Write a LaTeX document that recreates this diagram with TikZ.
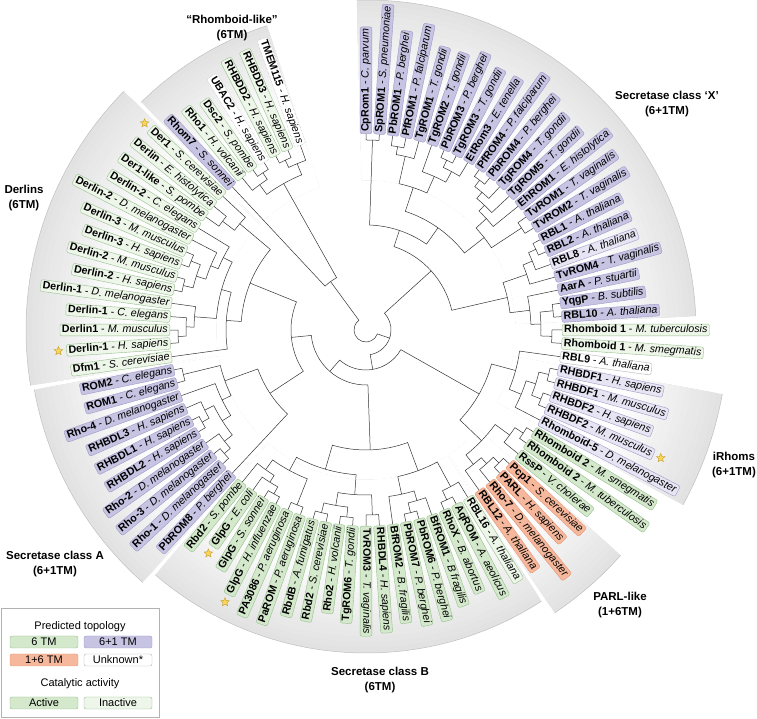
\documentclass[tikz,border=0pt]{standalone}
\usepackage{fontspec}
\setmainfont{Liberation Sans}
\usepackage{tikz}
\usetikzlibrary{shapes.geometric,calc}

\definecolor{sixtm}{RGB}{212,232,204}
\definecolor{sixtmi}{RGB}{237,246,233}
\definecolor{tmedge}{RGB}{150,190,140}
\definecolor{sixone}{RGB}{199,195,226}
\definecolor{sixonei}{RGB}{231,229,244}
\definecolor{oneedge}{RGB}{158,153,198}
\definecolor{onesix}{RGB}{246,184,156}
\definecolor{sixedge}{RGB}{230,148,116}
\definecolor{shadegray}{RGB}{226,226,226}
\definecolor{starfill}{RGB}{250,214,92}
\definecolor{staredge}{RGB}{196,156,40}

% clade: radius, first child (slot, radius), second child (slot, radius)
\newcommand{\clade}[5]{\draw[branch] ({90-3.913*(#2)}:#3pt) -- ({90-3.913*(#2)}:#1pt) arc[start angle={90-3.913*(#2)}, end angle={90-3.913*(#4)}, radius=#1pt] -- ({90-3.913*(#4)}:#5pt);}

% shaded group sector: start angle, end angle, outer radius
\newcommand{\grpsector}[3]{%
  \foreach \k in {0,...,16} {
    \pgfmathsetmacro\rr{#3*(1-0.017*\k)}
    \pgfmathsetmacro\pc{100-6.25*\k}
    \fill[shadegray!\pc!white] (#1:150pt) arc[start angle=#1, end angle=#2, radius=150pt] -- (#2:\rr pt) arc[start angle=#2, end angle=#1, radius=\rr pt] -- cycle;
  }
  \draw[sectedge] (#1:#3pt) arc[start angle=#1, end angle=#2, radius=#3pt];}

\begin{document}
\begin{tikzpicture}[x=1pt, y=1pt,
    branch/.style={draw=black!80, line width=0.5pt},
    sectedge/.style={draw=gray!50, line width=0.5pt},
    leaf/.style={draw, rounded corners=2pt, inner xsep=2pt, inner ysep=1pt, text height=7.6pt, text depth=2.2pt, font=\fontsize{10.7}{12}\selectfont, line width=0.4pt},
    pur/.style={leaf, fill=sixone, draw=oneedge},
    lpur/.style={leaf, fill=sixonei, draw=oneedge},
    grn/.style={leaf, fill=sixtm, draw=tmedge},
    lgrn/.style={leaf, fill=sixtmi, draw=tmedge},
    org/.style={leaf, fill=onesix, draw=sixedge},
    unk/.style={leaf, fill=white, draw=gray!60},
    dott/.style={leaf, fill=white, draw=gray!70, densely dotted},
    starmark/.style={star, star points=5, star point ratio=2.3, minimum size=9pt, inner sep=0pt, fill=starfill, draw=staredge, line width=0.4pt},
    head/.style={font=\fontsize{11.5}{15}\selectfont\bfseries, align=center},
    legkey/.style={draw, rounded corners=2pt, minimum width=68pt, minimum height=12pt, inner sep=0pt, font=\fontsize{11}{13}\selectfont},
    legtxt/.style={font=\fontsize{11}{13}\selectfont}]
  \useasboundingbox (0,0) rectangle (757,719);

  \begin{scope}[shift={(366,389)}]
    % Group shading
    \grpsector{134.6}{108.0}{320}
    \grpsector{91.6}{2.4}{330}
    \grpsector{-10.2}{-28.9}{362}
    \grpsector{-41.5}{-56.3}{340}
    \grpsector{-57.1}{-130.7}{323}
    \grpsector{-131.5}{-169.8}{337}
    \grpsector{-170.6}{-224.6}{340}

    % Secretase class X
    \clade{190}{0}{196}{1}{196}
    \clade{186}{2}{196}{3}{196}
    \clade{178}{2.5}{186}{4}{196}
    \clade{188}{6}{196}{7}{196}
    \clade{180}{6.5}{188}{8}{196}
    \clade{168}{5}{196}{7.25}{180}
    \clade{150}{3.25}{178}{6.125}{168}
    \clade{188}{9}{196}{10}{196}
    \clade{180}{9.5}{188}{11}{196}
    \clade{172}{10.25}{180}{12}{196}
    \clade{164}{11.125}{172}{13}{196}
    \clade{186}{14}{196}{15}{196}
    \clade{150}{12.0625}{164}{14.5}{186}
    \clade{125}{4.6875}{150}{13.28125}{150}
    \clade{105}{0.5}{190}{8.984}{125}
    \clade{188}{16}{196}{17}{196}
    \clade{180}{16.5}{188}{18}{196}
    \clade{170}{17.25}{180}{19}{196}
    \clade{188}{21}{196}{22}{196}
    \clade{186}{23}{196}{24}{196}
    \clade{175}{21.5}{188}{23.5}{186}
    \clade{165}{20}{196}{22.5}{175}
    \clade{145}{18.125}{170}{21.25}{165}
    \clade{88}{4.742}{105}{19.6875}{145}

    % iRhoms, RBL9, PARL-like
    \clade{188}{26}{196}{27}{196}
    \clade{188}{28}{196}{29}{196}
    \clade{178}{26.5}{188}{28.5}{188}
    \clade{168}{27.5}{178}{30}{196}
    \clade{155}{25}{196}{28.75}{168}
    \clade{188}{31}{196}{32}{196}
    \clade{178}{31.5}{188}{33}{196}
    \clade{188}{34}{196}{35}{196}
    \clade{180}{34.5}{188}{36}{196}
    \clade{172}{35.25}{180}{37}{196}
    \clade{160}{32.25}{178}{36.125}{172}
    \clade{130}{26.875}{155}{34.1875}{160}

    % Secretase class B
    \clade{188}{39}{196}{40}{196}
    \clade{178}{38}{196}{39.5}{188}
    \clade{188}{42}{196}{43}{196}
    \clade{178}{41}{196}{42.5}{188}
    \clade{168}{41.75}{178}{44}{196}
    \clade{150}{38.75}{178}{42.875}{168}
    \clade{185}{45}{196}{46}{196}
    \clade{188}{47}{196}{48}{196}
    \clade{188}{49}{196}{50}{196}
    \clade{178}{47.5}{188}{49.5}{188}
    \clade{165}{45.5}{185}{48.5}{178}
    \clade{188}{51}{196}{52}{196}
    \clade{188}{53}{196}{54}{196}
    \clade{180}{53.5}{188}{55}{196}
    \clade{172}{54.25}{180}{56}{196}
    \clade{160}{51.5}{188}{55.125}{172}
    \clade{145}{47}{165}{53.3125}{160}
    \clade{120}{40.8125}{150}{50.15625}{145}

    % Secretase class A
    \clade{188}{58}{196}{59}{196}
    \clade{180}{58.5}{188}{60}{196}
    \clade{188}{61}{196}{62}{196}
    \clade{180}{61.5}{188}{63}{196}
    \clade{170}{59.25}{180}{62.25}{180}
    \clade{160}{60.75}{170}{64}{196}
    \clade{188}{65}{196}{66}{196}
    \clade{150}{62.375}{160}{65.5}{188}
    \clade{115}{57}{196}{63.9375}{150}

    % Derlins
    \clade{188}{68}{196}{69}{196}
    \clade{180}{68.5}{188}{70}{196}
    \clade{172}{69.25}{180}{71}{196}
    \clade{188}{72}{196}{73}{196}
    \clade{188}{74}{196}{75}{196}
    \clade{178}{72.5}{188}{74.5}{188}
    \clade{168}{73.5}{178}{76}{196}
    \clade{160}{74.75}{168}{77}{196}
    \clade{150}{70.125}{172}{75.875}{160}
    \clade{140}{67}{196}{73}{150}
    \clade{180}{78}{196}{79}{196}
    \clade{165}{78.5}{180}{80}{196}
    \clade{125}{70}{140}{79.25}{165}

    % Rhomboid-like
    \clade{188}{83}{196}{84}{196}
    \clade{180}{82}{196}{83.5}{188}
    \clade{188}{85}{196}{86}{196}
    \clade{180}{85.5}{188}{87}{196}
    \clade{168}{82.75}{180}{86.25}{180}
    \clade{60}{81}{196}{84.5}{168}

    % Deep nodes
    \clade{75}{60.47}{115}{74.625}{125}
    \clade{55}{45.484}{120}{67.55}{75}
    \clade{40}{30.53}{130}{56.52}{55}
    \clade{25}{12.21}{88}{43.52}{40}
    \clade{12}{27.87}{25}{82.75}{60}

    % Leaves
    \foreach \s/\g/\sp/\st in {
        0/CpRom1/C. parvum/pur, 1/SpROM1/S. pneumoniae/pur, 2/PbROM1/P. berghei/pur,
        3/PfROM1/P. falciparum/pur, 4/TgROM1/T. gondii/pur, 5/TgROM2/T. gondii/pur,
        6/PbROM3/P. berghei/pur, 7/TgROM3/T. gondii/pur, 8/EtRom3/E. tenella/pur,
        9/PfROM4/P. falciparum/pur, 10/PbROM4/P. berghei/pur, 11/TgROM4/T. gondii/pur,
        12/TgROM5/T. gondii/pur, 13/EhROM1/E. histolytica/pur, 14/TvROM1/T. vaginalis/pur,
        15/TvROM2/T. vaginalis/pur, 16/RBL1/A. thaliana/pur, 17/RBL2/A. thaliana/pur,
        18/RBL8/A. thaliana/lpur, 19/TvROM4/T. vaginalis/pur, 20/AarA/P. stuartii/pur,
        21/YqgP/B. subtilis/pur, 22/RBL10/A. thaliana/pur,
        23/Rhomboid 1/M. tuberculosis/lgrn, 24/Rhomboid 1/M. smegmatis/lgrn,
        25/RBL9/A. thaliana/unk,
        26/RHBDF1/H. sapiens/lpur, 27/RHBDF1/M. musculus/lpur, 28/RHBDF2/H. sapiens/lpur,
        29/RHBDF2/M. musculus/lpur, 30/Rhomboid-5/D. melanogaster/lpur,
        31/Rhomboid 2/M. smegmatis/grn, 32/Rhomboid 2/M. tuberculosis/grn, 33/RssP/V. cholerae/grn,
        34/Pcp1/S. cerevisiae/org, 35/PARL/H. sapiens/org, 36/Rho-7/D. melanogaster/org,
        37/RBL12/A. thaliana/org,
        38/RBL16/A. thaliana/lgrn, 39/AqROM/A. aeolicus/grn, 40/RhoX/B. abortus/grn,
        41/BfROM1/B fragilis/grn, 42/PbROM6/P. berghei/grn, 43/PbROM7/P. berghei/grn,
        44/BfROM2/B. fragilis/grn, 45/RHBDL4/H. sapiens/grn, 46/TvROM3/T. vaginalis/grn,
        47/TgROM6/T. gondii/grn, 48/Rho2/H. volcanii/grn, 49/Rbd2/S. cerevisiae/grn,
        50/RbdB/A. fumigatus/grn, 51/PaROM/P. aeruginosa/grn, 52/PA3086/P. aeruginosa/grn,
        53/GlpG/H. influenzae/grn, 54/GlpG/S. sonnei/grn, 55/GlpG/E. coli/grn,
        56/Rbd2/S. pombe/grn,
        57/PbROM8/P. berghei/pur, 58/Rho-1/D. melanogaster/pur, 59/Rho-3/D. melanogaster/pur,
        60/Rho-2/D. melanogaster/pur, 61/RHBDL2/H. sapiens/pur, 62/RHBDL1/H. sapiens/pur,
        63/RHBDL3/H. sapiens/pur, 64/Rho-4/D. melanogaster/pur, 65/ROM1/C. elegans/pur,
        66/ROM2/C. elegans/pur,
        67/Dfm1/S. cerevisiae/lgrn, 68/Derlin-1/H. sapiens/lgrn, 69/Derlin1/M. musculus/lgrn,
        70/Derlin-1/C. elegans/lgrn, 71/Derlin-1/D. melanogaster/lgrn, 72/Derlin-2/H. sapiens/lgrn,
        73/Derlin-2/M. musculus/lgrn, 74/Derlin-3/H. sapiens/lgrn, 75/Derlin-3/M. musculus/lgrn,
        76/Derlin-2/D. melanogaster/lgrn, 77/Derlin-2/C. elegans/lgrn, 78/Der1-like/S. pombe/lgrn,
        79/Derlin/E. histolytica/lgrn, 80/Der1/S. cerevisiae/lgrn,
        81/Rhom7/S. sonnei/pur, 82/Rho1/H. volcanii/lgrn, 83/Dsc2/S. pombe/lgrn,
        84/UBAC2/H. sapiens/dott, 85/RHBDD2/H. sapiens/lgrn, 86/RHBDD3/H. sapiens/lgrn,
        87/TMEM115/H. sapiens/dott} {
      \pgfmathsetmacro\ang{90-3.913*\s}
      \ifnum\s<47
        \node[\st, anchor=west, rotate=\ang] (l\s) at (\ang:196pt) {\textbf{\g} - \textit{\sp}};
      \else
        \node[\st, anchor=east, rotate=\ang+180] (l\s) at (\ang:196pt) {\textbf{\g} - \textit{\sp}};
      \fi
    }

    % Solved structures
    \foreach \s in {29} {
      \node[starmark] (st\s) at ($(l\s.east)+({90-3.913*\s}:8pt)$) {};
    }
    \foreach \s in {53,55,68,80} {
      \node[starmark] (st\s) at ($(l\s.west)+({90-3.913*\s}:8pt)$) {};
    }
  \end{scope}

  % Group headings
  \node[head] (hrl) at (232,691) {“Rhomboid-like”\\(6TM)};
  \node[head] (hsx) at (667,615) {Secretase class ‘X’\\(6+1TM)};
  \node[head] (hir) at (734,254) {iRhoms\\(6+1TM)};
  \node[head] (hpl) at (620,114) {PARL-like\\(1+6TM)};
  \node[head] (hsb) at (380,39) {Secretase class B\\(6TM)};
  \node[head] (hsa) at (55,155) {Secretase class A\\(6+1TM)};
  \node[head] (hde) at (24,521) {Derlins\\(6TM)};

  % Legend
  \draw[gray!60, line width=0.5pt] (1,2) rectangle (159,111);
  \node[legtxt] (lgtop) at (80,92) {Predicted topology};
  \node[legkey, fill=sixtm, draw=tmedge] (k6) at (44,77) {6 TM};
  \node[legkey, fill=sixone, draw=oneedge] (k61) at (118,77) {6+1 TM};
  \node[legkey, fill=onesix, draw=sixedge] (k16) at (44,59) {1+6 TM};
  \node[legkey, fill=white, draw=gray!60] (kunk) at (118,59) {Unknown*};
  \node[legtxt] (lgcat) at (80,35) {Catalytic activity};
  \node[legkey, fill=sixtm, draw=tmedge] (kact) at (44,16) {Active};
  \node[legkey, fill=sixtmi, draw=tmedge] (kina) at (118,16) {Inactive};
\end{tikzpicture}
\end{document}
